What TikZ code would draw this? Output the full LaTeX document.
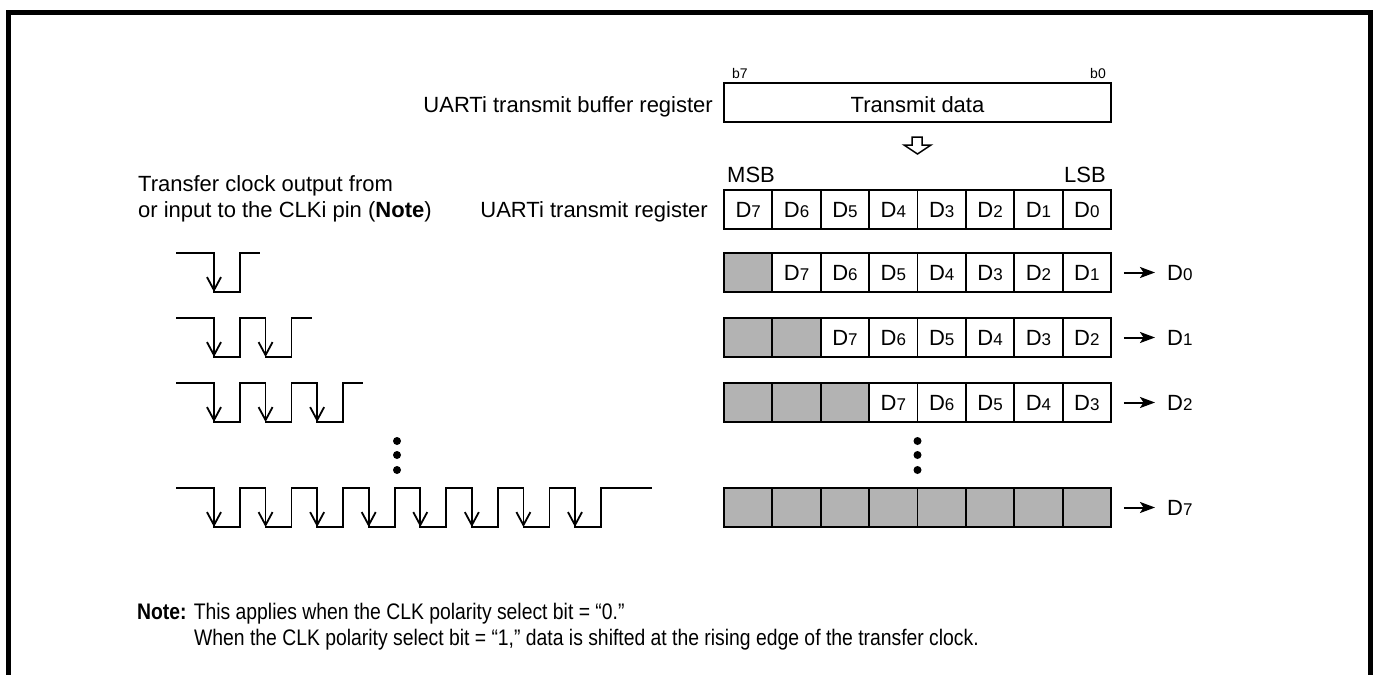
\documentclass[tikz,border=0pt]{standalone}
\usepackage{fontspec}
\setmainfont{Liberation Sans}
\newfontfamily\notefont{Liberation Sans}[FakeStretch=0.86]
\usetikzlibrary{arrows.meta}
\definecolor{cellgray}{RGB}{179,179,179}
\newcommand{\dg}[1]{{\fontsize{17pt}{17pt}\selectfont #1}}
\begin{document}
\begin{tikzpicture}[x=1pt,y=-1pt,line join=miter,
  lbl/.style={font=\fontsize{22pt}{26pt}\selectfont,inner sep=0pt},
  small/.style={font=\fontsize{14pt}{16pt}\selectfont,inner sep=0pt},
  notetxt/.style={font=\notefont\fontsize{22.5pt}{27pt}\selectfont,inner sep=0pt,anchor=base west},
  cell/.style={draw,line width=1.8pt,minimum width=48.375pt,minimum height=39pt,inner sep=0pt,
    font=\fontsize{22pt}{26pt}\selectfont,text height=16pt,text depth=0pt},
  wave/.style={line width=1.8pt},
  clkarr/.style={line width=1.8pt,-{Straight Barb[length=13pt,width=14pt,line width=1.8pt]}},
  outarr/.style={line width=2pt,-{Stealth[length=15pt,width=11pt,inset=3.5pt]},shorten <=12pt,shorten >=12pt},
  outlbl/.style={font=\fontsize{22pt}{26pt}\selectfont,inner sep=0pt,anchor=west,text height=16pt,text depth=0pt}]
\useasboundingbox (0,0) rectangle (1377,675);
\clip (0,0) rectangle (1377,675);
% frame
\draw[line width=5pt] (8.5,700) -- (8.5,12.5) -- (1370.5,12.5) -- (1370.5,700);
% buffer register
\node[draw,line width=1.8pt,minimum width=387pt,minimum height=39pt,inner sep=0pt] (buf) at (917.5,102.5) {};
\node[lbl,anchor=base] (bufdata) at (917.5,112) {Transmit data};
\node[lbl,anchor=base east] (buflbl) at (713,112) {UARTi transmit buffer register};
\node[small,anchor=base west] (b7) at (732,78) {b7};
\node[small,anchor=base east] (b0) at (1106,78) {b0};
% hollow arrow
\draw[line width=1.5pt] (912,137) -- (922,137) -- (922,145) -- (931,145) -- (917.5,154) -- (904,145) -- (912,145) -- cycle;
% MSB / LSB
\node[lbl,anchor=base west] (msb) at (727,182) {MSB};
\node[lbl,anchor=base east] (lsb) at (1106,182) {LSB};
\node[lbl,anchor=base east] (reglbl) at (708,217) {UARTi transmit register};
\node[lbl,anchor=base west] (clk1) at (138,191) {Transfer clock output from};
\node[lbl,anchor=base west] (clk2) at (138,217) {or input to the CLKi pin (\textbf{Note})};
% register rows
\foreach \row/\y/\s in {0/190/0,1/253/1,2/318/2,3/383/3,7/488/8}{
  \foreach \i in {0,...,7}{
    \pgfmathtruncatemacro\d{7-\i+\s}
    \pgfmathsetmacro\xx{724+48.375*\i+24.1875}
    \ifnum\i<\s
      \node[cell,fill=cellgray] (c\row-\i) at (\xx,\y+19.5) {};
    \else
      \node[cell] (c\row-\i) at (\xx,\y+19.5) {D\dg{\d}};
    \fi
  }
}
% outputs
\foreach \row/\y/\o in {1/253/0,2/318/1,3/383/2,7/488/7}{
  \node[outlbl] (o\row) at (1167,\y+19.5) {D\dg{\o}};
  \draw[outarr] (c\row-7.east) -- (o\row.west);
}
% clock waveforms
\foreach \row/\hi/\n/\tail in {1/253/1/20,2/318/2/20,3/383/3/20,7/488/8/51}{
  \draw[wave] (176,\hi) \foreach \k in {1,...,\n}{ -- ({214+51.57*(\k-1)},\hi) -- ++(0,39) -- ++(26,0) -- ++(0,-39)} -- ++(\tail,0);
  \foreach \k in {1,...,\n}{
    \draw[clkarr] ({214+51.57*(\k-1)},\hi) -- ++(0,39);
  }
}
% dots
\foreach \yy in {441,455,470}{
  \fill (397,\yy) circle (4);
  \fill (917.5,\yy) circle (4);
}
% note
\node[notetxt] (n1) at (137,619) {\textbf{Note:} This applies when the CLK polarity select bit = “0.”};
\node[notetxt] (n2) at (194,645) {When the CLK polarity select bit = “1,” data is shifted at the rising edge of the transfer clock.};
\end{tikzpicture}
\end{document}
